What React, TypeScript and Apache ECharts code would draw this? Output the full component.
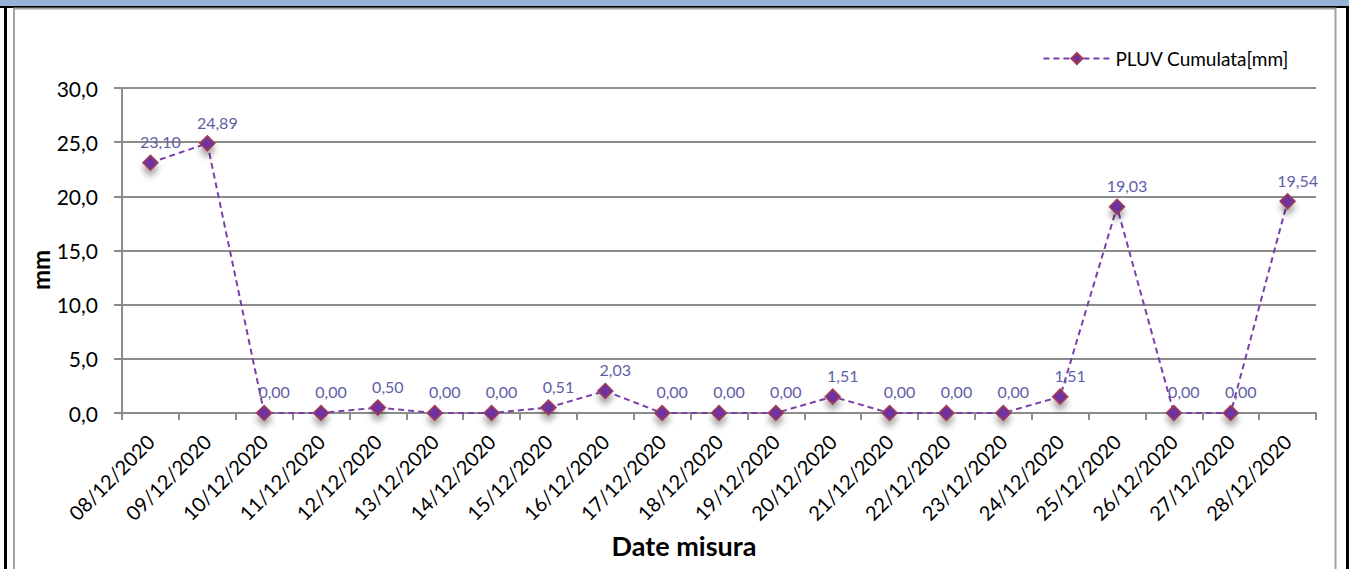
import React, { useEffect, useRef } from "react";
import * as echarts from "echarts";

const categories = [
  "08/12/2020", "09/12/2020", "10/12/2020", "11/12/2020", "12/12/2020", "13/12/2020", "14/12/2020",
  "15/12/2020", "16/12/2020", "17/12/2020", "18/12/2020", "19/12/2020", "20/12/2020", "21/12/2020",
  "22/12/2020", "23/12/2020", "24/12/2020", "25/12/2020", "26/12/2020", "27/12/2020", "28/12/2020",
];
const pluvValues = [23.1, 24.89, 0, 0, 0.5, 0, 0, 0.51, 2.03, 0, 0, 0, 1.51, 0, 0, 0, 1.51, 19.03, 0, 0, 19.54];
const seriesName = "PLUV Cumulata[mm]";
const yAxisTitle = "mm";
const xAxisTitle = "Date misura";

const FONT = "Lato, 'Open Sans', sans-serif";

export default function App() {
  const ref = useRef<HTMLDivElement>(null);
  useEffect(() => {
    if (!ref.current) return;
    const chart = echarts.init(ref.current, null, { renderer: "svg" });
    chart.setOption({
      animation: false,
      backgroundColor: "#ffffff",
      textStyle: { fontFamily: FONT },
      graphic: [
        { type: "rect", shape: { x: 0, y: 0, width: 1349, height: 6 }, style: { fill: "#95b3d7" } },
        { type: "rect", shape: { x: 0, y: 6, width: 1349, height: 2 }, style: { fill: "#000000" } },
        { type: "rect", shape: { x: 4, y: 6, width: 3, height: 563 }, style: { fill: "#000000" } },
        { type: "rect", shape: { x: 1346, y: 6, width: 3, height: 563 }, style: { fill: "#000000" } },
        {
          type: "rect",
          shape: { x: 14, y: 8.5, width: 1321.5, height: 580 },
          style: { fill: "none", stroke: "#a0a0a0", lineWidth: 2 },
        },
        {
          type: "text",
          x: 40,
          y: 270,
          rotation: Math.PI / 2,
          style: { text: yAxisTitle, font: `bold 24px ${FONT}`, fill: "#000000", align: "center", verticalAlign: "middle" },
        },
        {
          type: "text",
          x: 684,
          y: 545,
          style: { text: xAxisTitle, font: `bold 27px ${FONT}`, fill: "#000000", align: "center", verticalAlign: "middle" },
        },
      ],
      legend: {
        show: true,
        right: 55,
        top: 44,
        itemWidth: 67,
        itemHeight: 14,
        itemGap: 8,
        textStyle: { fontFamily: FONT, fontSize: 19, color: "#000000" },
        data: [seriesName],
      },
      grid: { left: 122, right: 33, top: 88, bottom: 156, containLabel: false },
      xAxis: {
        type: "category",
        data: categories,
        boundaryGap: true,
        axisLine: { show: true, lineStyle: { color: "#8c8c8c", width: 2 } },
        axisTick: { show: true, length: 7, lineStyle: { color: "#8c8c8c", width: 2 } },
        axisLabel: {
          rotate: 45,
          margin: 25,
          interval: 0,
          color: "#000000",
          fontFamily: FONT,
          fontSize: 20,
        },
        splitLine: { show: false },
      },
      yAxis: {
        type: "value",
        min: 0,
        max: 30,
        interval: 5,
        axisLine: { show: true, lineStyle: { color: "#8c8c8c", width: 2 } },
        axisTick: { show: true, length: 8, lineStyle: { color: "#8c8c8c", width: 2 } },
        axisLabel: {
          margin: 24,
          color: "#000000",
          fontFamily: FONT,
          fontSize: 21,
          formatter: (v: number) => v.toFixed(1).replace(".", ","),
        },
        splitLine: { show: true, lineStyle: { color: "#8c8c8c", width: 2 } },
      },
      series: [
        {
          name: seriesName,
          type: "line",
          data: pluvValues,
          symbol: "diamond",
          symbolSize: 15,
          lineStyle: { color: "#7a40a8", width: 2, type: [6, 4] },
          itemStyle: {
            color: "#7030a0",
            borderColor: "#a04050",
            borderWidth: 1.5,
            shadowBlur: 6,
            shadowColor: "rgba(0,0,0,0.35)",
            shadowOffsetY: 6,
          },
          label: {
            show: true,
            position: "top",
            distance: 5,
            offset: [10, 0],
            color: "#5e5ea6",
            fontFamily: FONT,
            fontSize: 16,
            formatter: (p: any) => Number(p.value).toFixed(2).replace(".", ","),
          },
        },
      ],
    });
    return () => chart.dispose();
  }, []);
  return (
    <div
      ref={ref}
      style={{ position: "fixed", left: 0, top: 0, width: 1349, height: 569 }}
    />
  );
}
